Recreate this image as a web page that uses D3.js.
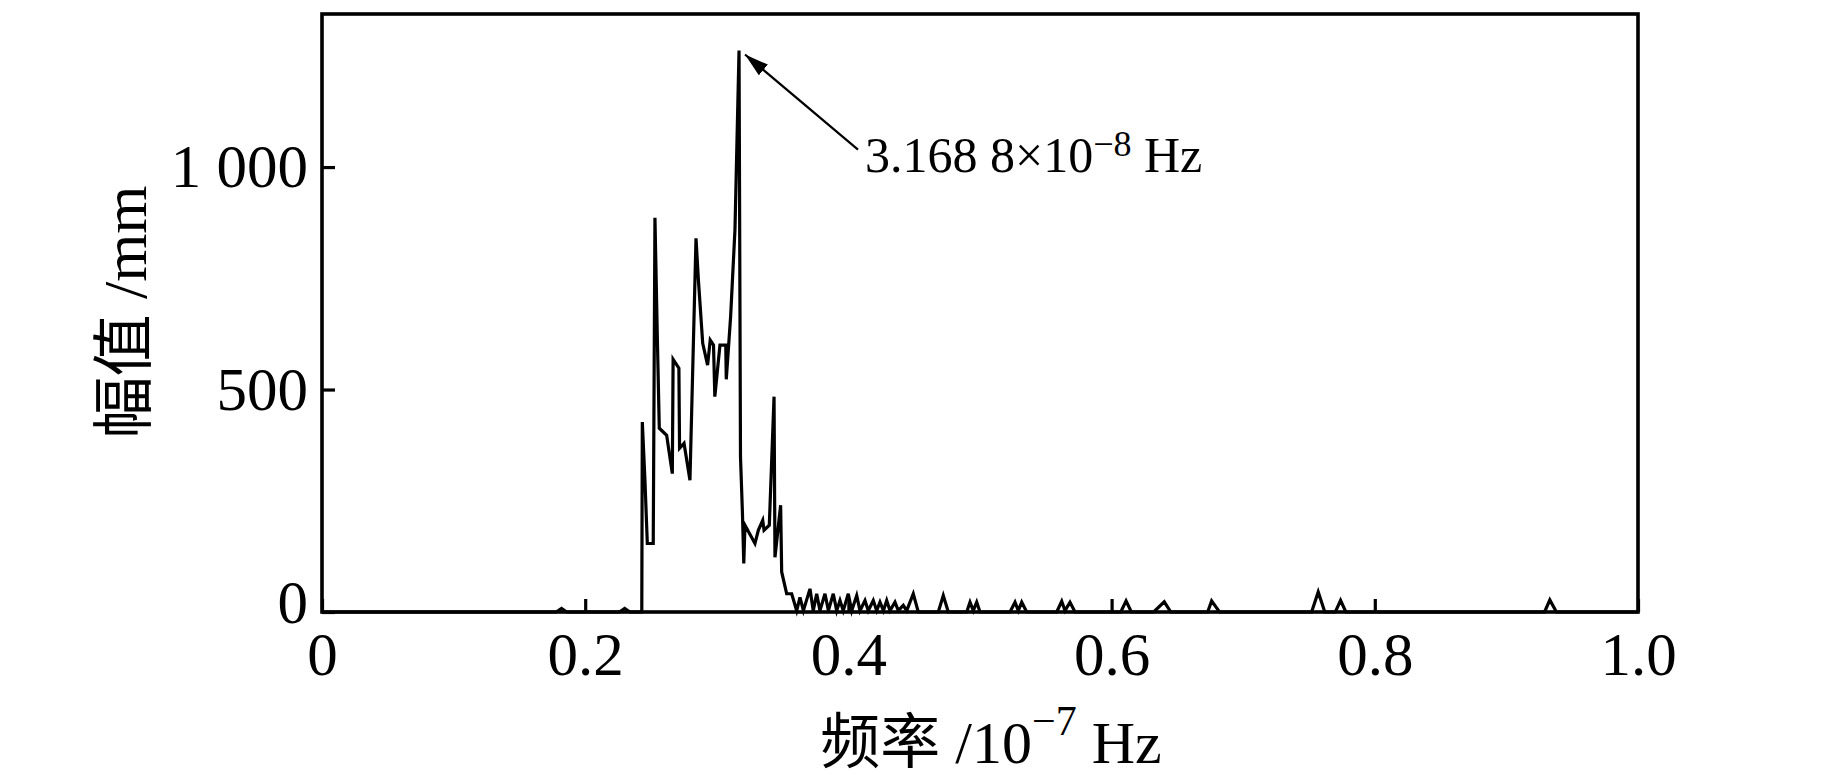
<!DOCTYPE html>
<head>
    <script src="https://d3js.org/d3.v7.min.js"></script>
    <style>
body {
  margin: 0;
  background: #fff;
}
text {
  font-family: "Liberation Serif", "Times New Roman", "Noto Sans CJK SC", serif;
  fill: #000;
}
</style>
</head>
<body>
    <svg></svg>
</body>

<script>
    // frequency in 1e-7 Hz, amplitude in mm
    var freq = [0, 0.178, 0.182, 0.186, 0.226, 0.230, 0.234, 0.2430, 0.2434, 0.2454,
        0.2472, 0.2517, 0.2530, 0.2548, 0.2563, 0.2619, 0.2662, 0.2668, 0.2712, 0.2717,
        0.2751, 0.2796, 0.2842, 0.2860, 0.2893, 0.2930, 0.2950, 0.2975, 0.2985, 0.3024,
        0.3068, 0.3072, 0.3105, 0.3138, 0.3169, 0.3180, 0.3195, 0.3205, 0.3214, 0.3290,
        0.3316, 0.3349, 0.3359, 0.3399, 0.3435, 0.3442, 0.3485, 0.3493, 0.3531, 0.3569,
        0.3607, 0.3632, 0.3658, 0.3708, 0.3733, 0.3759, 0.3784, 0.3822, 0.3848, 0.3885,
        0.3911, 0.3936, 0.3961, 0.3999, 0.4025, 0.4063, 0.4088, 0.4126, 0.4151, 0.4189,
        0.4215, 0.4240, 0.4266, 0.4291, 0.4316, 0.4354, 0.4379, 0.4417, 0.4443, 0.4493,
        0.4531, 0.4683, 0.4721, 0.4759, 0.4899, 0.4924, 0.4949, 0.4975, 0.5000, 0.5228,
        0.5266, 0.5291, 0.5317, 0.5355, 0.5583, 0.5621, 0.5646, 0.5684, 0.5722, 0.607,
        0.611, 0.615, 0.632, 0.640, 0.645, 0.673, 0.676, 0.682,
        0.752, 0.757, 0.762, 0.770, 0.774, 0.778, 0.929, 0.933, 0.938, 1.0];
    var amp = [0, 0, 8, 0, 0, 8, 0, 0, 427, 296,
        154, 154, 886, 619, 413, 397, 311, 568, 548, 368,
        379, 296, 840, 747, 604, 555, 611, 600, 484, 600,
        600, 523, 664, 859, 1262, 349, 221, 109, 195, 154,
        184, 206, 184, 195, 484, 123, 240, 90, 41, 41,
        3, 33, 3, 52, 3, 41, 3, 41, 3, 41,
        3, 26, 3, 41, 3, 37, 3, 26, 3, 26,
        3, 22, 3, 26, 3, 22, 3, 15, 3, 41,
        0, 0, 37, 0, 0, 22, 3, 22, 0, 0,
        22, 3, 22, 0, 0, 24, 3, 22, 0, 0,
        25, 0, 0, 23, 0, 0, 25, 0,
        0, 45, 0, 0, 26, 0, 0, 27, 0, 0];

    var xTicks = [0, 0.2, 0.4, 0.6, 0.8, 1.0];
    var xTickLabels = ["0", "0.2", "0.4", "0.6", "0.8", "1.0"];
    var yTicks = [0, 500, 1000];
    var yTickLabels = ["0", "500", "1 000"];

    var peakFreq = 0.31688;
    var peakAmp = 1262;

    var width = 1843;
    var height = 779;

    var svg = d3.select('svg')
        .attr('width', width)
        .attr('height', height);

    var x = d3.scaleLinear().domain([0, 1]).range([322, 1638]);
    var y = d3.scaleLinear().domain([0, 1344]).range([612, 14]);

    var data = freq.map(function (f, i) { return {f: f, a: amp[i]}; });

    // spectrum line
    var line = d3.line()
        .x(function (d) { return x(d.f); })
        .y(function (d) { return y(d.a); });

    svg.append('path')
        .datum(data)
        .attr('d', line)
        .attr('fill', 'none')
        .attr('stroke', '#000')
        .attr('stroke-width', 3.2)
        .attr('stroke-linejoin', 'miter');

    // axes, ticks pointing inward
    var xAxis = svg.append('g')
        .attr('transform', 'translate(0,' + y(0) + ')')
        .call(d3.axisBottom(x).tickValues(xTicks)
            .tickFormat(function (d, i) { return xTickLabels[i]; })
            .tickSize(-13).tickSizeOuter(0).tickPadding(20));

    var yAxis = svg.append('g')
        .attr('transform', 'translate(' + x(0) + ',0)')
        .call(d3.axisLeft(y).tickValues(yTicks)
            .tickFormat(function (d, i) { return yTickLabels[i]; })
            .tickSize(-13).tickSizeOuter(0).tickPadding(14));

    [xAxis, yAxis].forEach(function (g) {
        g.select('.domain').remove();
        g.selectAll('line').attr('stroke', '#000').attr('stroke-width', 3.2);
        g.selectAll('text')
            .style('font-family', '"Liberation Serif", "Times New Roman", serif')
            .style('font-size', '61px');
    });
    yAxis.selectAll('.tick text').filter(function (d) { return d === 0; })
        .attr('dy', '0.18em');

    // frame
    svg.append('rect')
        .attr('x', x(0))
        .attr('y', y(1344))
        .attr('width', x(1) - x(0))
        .attr('height', y(0) - y(1344))
        .attr('fill', 'none')
        .attr('stroke', '#000')
        .attr('stroke-width', 3.6);

    // axis titles
    var xt = svg.append('text')
        .attr('x', 991)
        .attr('y', 763)
        .attr('text-anchor', 'middle')
        .style('font-size', '60px');
    xt.append('tspan').text('频率 /10');
    xt.append('tspan').text('\u22127').attr('dy', -28).style('font-size', '42px');
    xt.append('tspan').text(' Hz').attr('dy', 28);

    svg.append('text')
        .attr('transform', 'translate(146,312)rotate(-90)')
        .attr('text-anchor', 'middle')
        .style('font-size', '62px')
        .text('幅值 /mm');

    // peak annotation
    svg.append('defs').append('marker')
        .attr('id', 'head')
        .attr('viewBox', '0 0 24 14')
        .attr('refX', 0)
        .attr('refY', 7)
        .attr('markerWidth', 24)
        .attr('markerHeight', 14)
        .attr('markerUnits', 'userSpaceOnUse')
        .attr('orient', 'auto')
        .append('path')
        .attr('d', 'M0,7L24,0L24,14Z')
        .attr('fill', '#000');

    var labF = 0.4073, labA = 1039;
    svg.append('line')
        .attr('x1', x(peakFreq) + 6)
        .attr('y1', y(peakAmp) + 4)
        .attr('x2', x(labF))
        .attr('y2', y(labA))
        .attr('stroke', '#000')
        .attr('stroke-width', 2.2)
        .attr('marker-start', 'url(#head)');

    var at = svg.append('text')
        .attr('x', x(0.4126))
        .attr('y', y(990))
        .style('font-size', '50px');
    at.append('tspan').text('3.168 8\u00d710');
    at.append('tspan').text('\u22128').attr('dy', -16).style('font-size', '36px');
    at.append('tspan').text(' Hz').attr('dy', 16);
</script>
